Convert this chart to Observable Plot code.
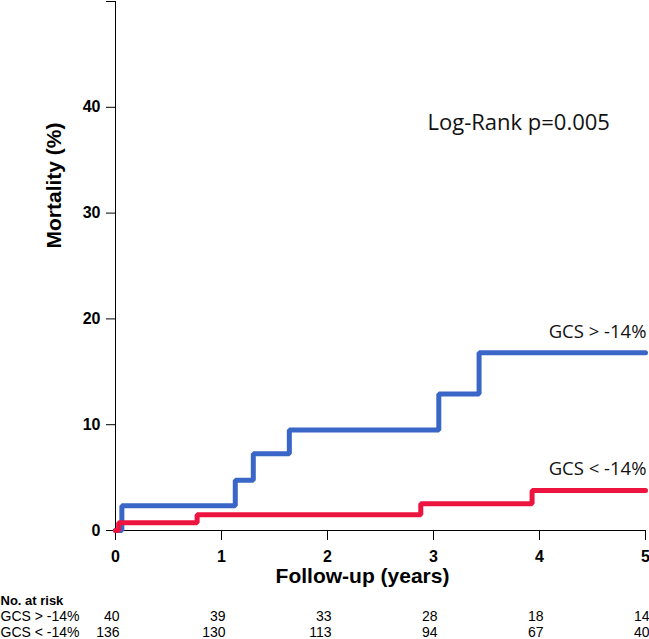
<!DOCTYPE html>
<html>
<head>
<meta charset="utf-8">
<script src="https://cdn.jsdelivr.net/npm/d3@7"></script>
<script src="https://cdn.jsdelivr.net/npm/@observablehq/plot@0.6"></script>
<style>
  html, body { margin: 0; padding: 0; background: #fff; }
  #chart { width: 649px; }
  #chart svg { display: block; }
</style>
</head>
<body>
<div id="chart"></div>
<script>
// ---- data ----
const years = [0, 1, 2, 3, 4, 5];
const yTicks = [0, 10, 20, 30, 40, 50];
const groups = ["GCS > -14%", "GCS < -14%"];
const colors = ["#3a66c8", "#ee1440"];

const highTime = [0, 0.06, 1.13, 1.30, 1.64, 3.05, 3.43, 5];
const highMort = [0, 2.35, 4.75, 7.25, 9.5, 12.9, 16.8, 16.8];

const lowTime = [0, 0.03, 0.77, 2.88, 3.93, 5];
const lowMort = [0, 0.73, 1.5, 2.52, 3.78, 3.78];

const riskHigh = [40, 39, 33, 28, 18, 14];
const riskLow = [136, 130, 113, 94, 67, 40];

const pValueText = "Log-Rank p=0.005";
const xTitle = "Follow-up (years)";
const yTitle = "Mortality (%)";
const riskTitle = "No. at risk";

// ---- tables built from the arrays ----
const curves = [
  ...highTime.map((t, i) => ({group: groups[0], time: t, mort: highMort[i]})),
  ...lowTime.map((t, i) => ({group: groups[1], time: t, mort: lowMort[i]}))
];
const ends = groups.map(g => curves.filter(d => d.group === g).at(-1));
const riskRows = [
  ...years.map((t, i) => ({row: groups[0], time: t, n: riskHigh[i]})),
  ...years.map((t, i) => ({row: groups[1], time: t, n: riskLow[i]}))
];

const baseFont = "'Liberation Sans', Arial, Helvetica, sans-serif";
const labelFont = "'Open Sans', 'Noto Sans', sans-serif";

const main = Plot.plot({
  width: 649,
  height: 592,
  marginTop: 1,
  marginBottom: 62,
  marginLeft: 115,
  marginRight: 4,
  style: {fontFamily: baseFont, background: "#fff", color: "#000", overflow: "visible"},
  x: {domain: [0, 5]},
  y: {domain: [0, 50]},
  color: {domain: groups, range: colors},
  marks: [
    Plot.axisY({ticks: yTicks, tickSize: 9, tickPadding: 6, tickFormat: d => d === 50 ? "" : String(d),
                fontSize: 16, fontWeight: "bold", label: null}),
    Plot.axisX({ticks: years, tickSize: 10, tickPadding: 10, tickFormat: d => String(d),
                fontSize: 16, fontWeight: "bold", label: null}),
    Plot.ruleX([0], {stroke: "#000"}),
    Plot.ruleY([0], {stroke: "#000"}),
    Plot.line(curves, {x: "time", y: "mort", z: "group", stroke: "group", curve: "step-after",
                       strokeWidth: 5, strokeLinejoin: "miter", strokeLinecap: "round"}),
    Plot.text(ends, {x: "time", y: "mort", text: "group", textAnchor: "end", lineAnchor: "middle", dx: 1, dy: -21,
                     fontFamily: labelFont, fontSize: 18.5, fill: "#111"}),
    Plot.text([pValueText], {text: d => d, frameAnchor: "top-left", textAnchor: "start", lineAnchor: "middle",
                             dx: 312, dy: 121, fontFamily: labelFont, fontSize: 22, fill: "#111"}),
    Plot.text([yTitle], {text: d => d, frameAnchor: "top-left", textAnchor: "middle", lineAnchor: "middle",
                         rotate: -90, dx: -61, dy: 184, fontSize: 21, fontWeight: "bold"}),
    Plot.text([xTitle], {text: d => d, frameAnchor: "bottom", textAnchor: "middle", lineAnchor: "middle",
                         dx: -18, dy: 46, fontSize: 21, fontWeight: "bold"})
  ]
});

const table = Plot.plot({
  width: 649,
  height: 47,
  marginTop: 0,
  marginBottom: 0,
  marginLeft: 115,
  marginRight: 4,
  style: {fontFamily: baseFont, background: "#fff", color: "#000", overflow: "visible"},
  x: {domain: [0, 5], axis: null},
  y: {type: "point", domain: [riskTitle, ...groups], range: [7, 40], padding: 0, axis: null},
  marks: [
    Plot.text(riskRows, {x: "time", y: "row", text: d => String(d.n), textAnchor: "end", dx: 4, fontSize: 14}),
    Plot.text(groups, {y: d => d, text: d => d, frameAnchor: "left", dx: -115, textAnchor: "start", fontSize: 14}),
    Plot.text([riskTitle], {y: d => d, text: d => d, frameAnchor: "left", dx: -115, textAnchor: "start",
                            fontSize: 13, fontWeight: "bold"})
  ]
});

const el = document.getElementById("chart");
el.appendChild(main);
el.appendChild(table);
</script>
</body>
</html>
